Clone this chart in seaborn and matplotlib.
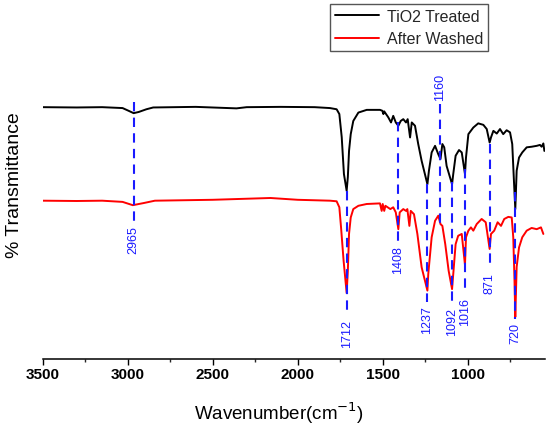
import numpy as np
import pandas as pd
import matplotlib
matplotlib.use("Agg")
import matplotlib.pyplot as plt
import seaborn as sns

# FTIR spectra (wavenumber cm-1, transmittance a.u.)
wn_treated = [3500, 3300, 3150, 3030, 2995, 2965, 2935, 2890, 2850, 2600, 2360, 2300, 2100, 1900,
              1810, 1771, 1755, 1741, 1728, 1712, 1705, 1698, 1688, 1673, 1643, 1594, 1516, 1502,
              1496, 1491, 1467, 1451, 1438, 1423, 1408, 1394, 1379, 1363, 1353, 1339, 1329, 1310,
              1291, 1271, 1237, 1228, 1212, 1192, 1173, 1160, 1149, 1138, 1124, 1092, 1085, 1071,
              1051, 1035, 1016, 1010, 996, 967, 938, 908, 888, 871, 863, 849, 829, 810, 791, 771,
              751, 738, 728, 720, 712, 698, 679, 653, 624, 594, 575, 565, 555, 549]
t_treated = [84.0, 83.9, 84.0, 83.7, 82.8, 82.0, 82.4, 83.3, 83.9, 84.1, 83.6, 84.0, 84.1, 84.0,
             83.7, 83.3, 81.7, 74.0, 61.7, 56.1, 60.7, 69.4, 75.0, 79.4, 82.2, 83.1, 83.1, 82.8,
             81.7, 82.6, 80.6, 78.9, 81.1, 78.9, 77.8, 79.4, 80.0, 78.9, 80.0, 73.9, 78.9, 77.8,
             71.7, 66.1, 58.3, 62.8, 68.9, 71.1, 68.3, 66.7, 71.7, 70.6, 64.4, 58.3, 61.7, 67.8,
             69.7, 68.9, 61.7, 67.2, 75.0, 77.2, 78.6, 78.1, 76.7, 72.2, 73.9, 76.1, 75.2, 76.7, 75.0, 76.3,
             75.6, 71.7, 59.4, 50.0, 62.8, 67.2, 68.9, 70.6, 70.8, 71.1, 71.4, 70.8, 71.9, 69.4]

wn_washed = [3500, 3300, 3150, 3030, 2970, 2907, 2840, 2500, 2160, 2000, 1810, 1771, 1755, 1745,
             1730, 1712, 1705, 1698, 1688, 1673, 1643, 1594, 1516, 1506, 1500, 1491, 1484, 1455,
             1438, 1423, 1408, 1400, 1379, 1363, 1355, 1343, 1335, 1316, 1296, 1271, 1237, 1232,
             1212, 1192, 1173, 1160, 1149, 1132, 1112, 1092, 1085, 1071, 1056, 1035, 1016, 1010,
             996, 981, 967, 947, 918, 894, 871, 863, 844, 824, 804, 785, 761, 741, 732, 725, 720,
             712, 698, 679, 653, 624, 594, 569, 555]
t_washed = [52.8, 52.7, 52.8, 52.4, 51.3, 52.0, 52.8, 53.1, 53.7, 53.1, 52.8, 52.6, 50.6, 43.9,
            32.8, 22.0, 29.4, 41.7, 47.2, 50.0, 51.1, 51.7, 51.9, 49.4, 51.7, 49.4, 51.1, 50.0,
            50.6, 48.9, 43.3, 48.9, 50.0, 49.4, 50.0, 44.4, 49.4, 48.3, 41.7, 30.6, 22.8, 28.3,
            40.6, 46.1, 47.8, 45.0, 44.4, 38.3, 29.4, 23.3, 28.3, 38.3, 41.1, 41.7, 31.4, 40.6,
            42.8, 43.9, 42.8, 45.0, 46.7, 45.6, 36.7, 41.7, 42.8, 45.6, 44.4, 46.7, 47.4, 47.2, 40.6, 27.0, 14.0,
            30.7, 37.2, 40.6, 42.8, 43.7, 43.3, 43.9, 41.7]

series_names = ["TiO2 Treated", "After Washed"]
peak_wn = [2965, 1712, 1408, 1237, 1160, 1092, 1016, 871, 720]

df = pd.concat([
    pd.DataFrame({"wn": wn_treated, "T": t_treated, "sample": series_names[0]}),
    pd.DataFrame({"wn": wn_washed, "T": t_washed, "sample": series_names[1]}),
])

sns.set_theme(style="white")
plt.rcParams["font.family"] = ["Liberation Sans", "DejaVu Sans"]

fig = plt.figure(figsize=(5.5, 4.27), dpi=100)
ax = fig.add_axes([0.0776, 0.157, 0.9134, 0.702])

sns.lineplot(data=df, x="wn", y="T", hue="sample", estimator=None, sort=False,
             palette={"TiO2 Treated": "black", "After Washed": "#ff0000"},
             linewidth=1.4, ax=ax)

# dashed marker lines: (y top, y bottom, label above?)
spans = {2965: (85.8, 45.7, False), 1712: (56.1, 14.4, False), 1408: (79.0, 39.0, False),
         1237: (58.3, 19.0, False), 1160: (85.0, 45.0, True), 1092: (59.0, 18.3, False),
         1016: (63.3, 21.8, False), 871: (71.7, 30.0, False), 720: (55.7, 13.3, False)}
for w in peak_wn:
    y0, y1, above = spans[w]
    ax.plot([w, w], [y0, y1], color="#1a1aff", lw=1.5, ls=(0, (4.5, 3)), zorder=3)
    if above:
        ax.text(w, y0 + 1.3, str(w), rotation=90, ha="center", va="bottom",
                color="#1a1aff", fontsize=9)
    else:
        ax.text(w, y1 - 1.0, str(w), rotation=90, ha="center", va="top",
                color="#1a1aff", fontsize=9)

ax.set_xlim(3500, 545)
ax.set_ylim(0, 100)
ax.set_xticks([3500, 3000, 2500, 2000, 1500, 1000])
ax.set_xticks(np.arange(3250, 545, -500), minor=True)
ax.set_yticks([])
for s in ["top", "right", "left"]:
    ax.spines[s].set_visible(False)
ax.spines["bottom"].set_color("black")
ax.spines["bottom"].set_linewidth(1.1)
ax.tick_params(axis="x", which="major", direction="out", length=4, width=1.0,
               bottom=True, labelsize=11, pad=2, colors="black")
ax.tick_params(axis="x", which="minor", direction="out", length=2.5, width=1.0, bottom=True)
for lab in ax.get_xticklabels():
    lab.set_fontweight("bold")

ax.set_xlabel("Wavenumber(cm$^{-1}$)", fontsize=13.5, color="black")
ax.xaxis.set_label_coords(0.47, -0.135)
ax.set_ylabel("% Transmittance", fontsize=14, color="black")
ax.yaxis.set_label_coords(-0.04, 0.583)

ax.legend(loc="upper right", bbox_to_anchor=(0.888, 0.988), bbox_transform=fig.transFigure,
          fancybox=False, framealpha=1, edgecolor="#555555", fontsize=11.5,
          handlelength=2.8, borderaxespad=0, title=None, borderpad=0.3, labelspacing=0.45,
          handletextpad=0.5)
ax.get_legend().get_frame().set_linewidth(1.0)

fig.savefig("out.png", dpi=100)
